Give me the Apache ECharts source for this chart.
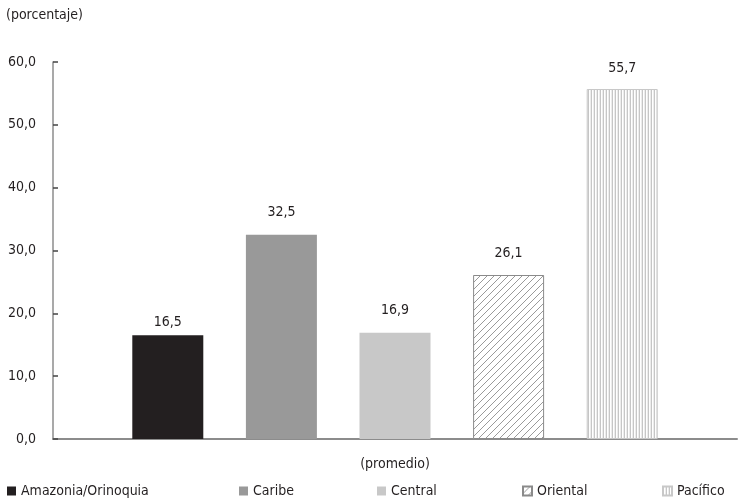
<!DOCTYPE html>
<html>
<head>
<meta charset="utf-8">
<script src="https://cdn.jsdelivr.net/npm/echarts@6/dist/echarts.min.js"></script>
<style>
  html, body { margin: 0; padding: 0; background: #fff; }
  #chart { width: 742px; height: 503px; }
</style>
</head>
<body>
<div id="chart"></div>
<script>
// Regional averages (percent)
const regions = ['Amazonia/Orinoquia', 'Caribe', 'Central', 'Oriental', 'Pacífico'];
const values = [16.5, 32.5, 16.9, 26.1, 55.7];
const categories = ['(promedio)'];
const yTicks = { min: 0, max: 60, step: 10 };

const FONT = '"Liberation Sans Narrow", "Arial Narrow", "DejaVu Sans Condensed", sans-serif';
const INK = '#231f20';

// Diagonal hatch fill
function hatchPattern() {
  const c = document.createElement('canvas');
  c.width = 7; c.height = 7;
  const g = c.getContext('2d');
  g.fillStyle = '#fff';
  g.fillRect(0, 0, 7, 7);
  g.strokeStyle = '#9a9a9a';
  g.lineWidth = 1;
  g.beginPath();
  g.moveTo(0, 7); g.lineTo(7, 0);
  g.moveTo(-2, 2); g.lineTo(2, -2);
  g.moveTo(5, 9); g.lineTo(9, 5);
  g.stroke();
  return { image: c, repeat: 'repeat' };
}

// Vertical stripe fill
function stripePattern() {
  const c = document.createElement('canvas');
  c.width = 3; c.height = 4;
  const g = c.getContext('2d');
  g.fillStyle = '#ffffff'; g.fillRect(0, 0, 3, 4);
  g.fillStyle = '#c6c6c6'; g.fillRect(0, 0, 1, 4);
  g.fillStyle = '#ececec'; g.fillRect(2, 0, 1, 4);
  return { image: c, repeat: 'repeat' };
}

const styles = [
  { color: '#231f20' },
  { color: '#999999' },
  { color: '#c8c8c8' },
  { color: hatchPattern(), borderColor: '#8a8a8a', borderWidth: 1 },
  { color: stripePattern(), borderColor: '#c8c8c8', borderWidth: 1 }
];
const labelGap = [6, 15, 15, 15, 14];

const legendLeft = [7, 239, 377, 522, 662];

const fmt = v => v.toFixed(1).replace('.', ',');

const chart = echarts.init(document.getElementById('chart'), null, { renderer: 'canvas' });
chart.setOption({
  backgroundColor: '#fff',
  animation: false,
  textStyle: { fontFamily: FONT, color: INK },
  title: {
    text: '(porcentaje)',
    left: 6, top: 8, padding: 0,
    textStyle: { fontFamily: FONT, fontSize: 14, fontWeight: 'normal', color: INK }
  },
  legend: regions.map((name, i) => ({
    data: [name],
    left: legendLeft[i],
    top: 484,
    padding: 0,
    icon: 'rect',
    itemWidth: 9,
    itemHeight: 9,
    itemGap: 0,
    textStyle: { fontFamily: FONT, fontSize: 14, color: INK }
  })),
  grid: { left: 53, right: 5, top: 62, bottom: 64 },
  xAxis: {
    type: 'category',
    data: categories,
    axisLine: { lineStyle: { color: '#8c8c8c', width: 2 } },
    axisTick: { inside: true, length: 6, lineStyle: { color: '#444', width: 1.5 } },
    axisLabel: { margin: 18, fontFamily: FONT, fontSize: 14, color: INK }
  },
  yAxis: {
    type: 'value',
    min: yTicks.min, max: yTicks.max, interval: yTicks.step,
    splitLine: { show: false },
    axisLine: { show: true, lineStyle: { color: '#8c8c8c', width: 1.5 } },
    axisTick: { show: true, inside: true, length: 5, lineStyle: { color: '#444', width: 1.5 } },
    axisLabel: { margin: 17, fontFamily: FONT, fontSize: 14, color: INK, formatter: fmt }
  },
  series: regions.map((name, i) => ({
    name: name,
    type: 'bar',
    data: [values[i]],
    barWidth: 71,
    barGap: '60%',
    itemStyle: styles[i],
    label: {
      show: true, position: 'top', distance: labelGap[i],
      fontFamily: FONT, fontSize: 14, color: INK,
      formatter: p => fmt(p.value)
    }
  }))
});
</script>
</body>
</html>
